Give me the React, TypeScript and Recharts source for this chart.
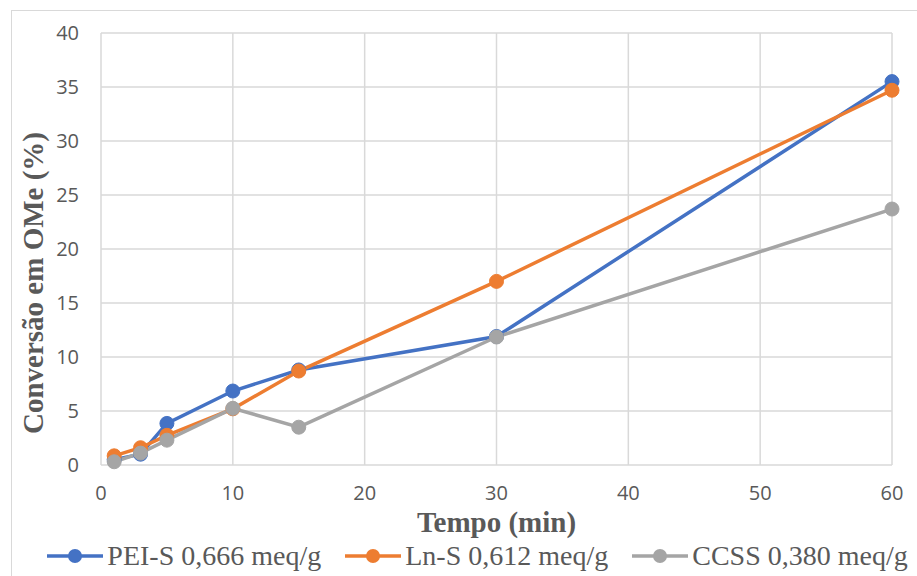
import { CartesianGrid, Legend, Line, LineChart, XAxis, YAxis } from "recharts";

const TEMPOS = [1, 3, 5, 10, 15, 30, 60];
const PEI_S = [0.5, 1.0, 3.85, 6.85, 8.8, 11.9, 35.5];
const LN_S = [0.85, 1.6, 2.75, 5.2, 8.7, 17.0, 34.7];
const CCSS = [0.3, 1.1, 2.3, 5.25, 3.5, 11.85, 23.7];
const X_TICKS = [0, 10, 20, 30, 40, 50, 60];
const Y_TICKS = [0, 5, 10, 15, 20, 25, 30, 35, 40];

const SERIES = [
  { chave: "pei", nome: "PEI-S 0,666 meq/g", cor: "#4472C4" },
  { chave: "ln", nome: "Ln-S 0,612 meq/g", cor: "#ED7D31" },
  { chave: "ccss", nome: "CCSS 0,380 meq/g", cor: "#A5A5A5" },
];

const dados = TEMPOS.map((t, i) => ({ t, pei: PEI_S[i], ln: LN_S[i], ccss: CCSS[i] }));

const tickStyle = { fontFamily: "'Open Sans', sans-serif", fontSize: 20, fill: "#595959" };
const tituloStyle = { fontFamily: "'Liberation Serif', serif", fontSize: 29, fontWeight: 700, fill: "#595959" };

function Legenda() {
  return (
    <div style={{ display: "flex", justifyContent: "center", alignItems: "center", gap: 24, paddingLeft: 38, fontFamily: "'Liberation Serif', serif", fontSize: 28, color: "#595959" }}>
      {SERIES.map((s) => (
        <div key={s.chave} style={{ display: "flex", alignItems: "center", gap: 4 }}>
          <svg width={56} height={16}>
            <line x1={0} y1={8} x2={56} y2={8} stroke={s.cor} strokeWidth={3.5} />
            <circle cx={28} cy={8} r={7} fill={s.cor} />
          </svg>
          <span style={{ whiteSpace: "nowrap" }}>{s.nome}</span>
        </div>
      ))}
    </div>
  );
}

export default function App() {
  return (
    <div style={{ position: "fixed", left: 0, top: 0, width: 917, height: 576, background: "#fff", overflow: "hidden" }}>
      <div style={{ position: "absolute", left: 11, top: 10, width: 930, height: 600, border: "1.5px solid #d9d9d9" }} />
      <LineChart width={917} height={576} data={dados} margin={{ top: 33, right: 25, left: 0, bottom: 0 }}>
        <CartesianGrid stroke="#d9d9d9" strokeWidth={1.5} />
        <XAxis
          dataKey="t"
          type="number"
          domain={[0, 60]}
          ticks={X_TICKS}
          axisLine={false}
          tickLine={false}
          tickSize={0}
          tickMargin={21}
          height={111}
          tick={tickStyle}
          label={(p: any) => {
            const vb = p.viewBox;
            return (
              <text x={vb.x + vb.width / 2} y={vb.y + 57} dy="0.35em" textAnchor="middle" style={tituloStyle}>
                Tempo (min)
              </text>
            );
          }}
        />
        <YAxis
          type="number"
          domain={[0, 40]}
          ticks={Y_TICKS}
          axisLine={false}
          tickLine={false}
          tickSize={0}
          tickMargin={22}
          width={101}
          tick={tickStyle}
          label={() => (
            <text x={33} y={283} dy="0.35em" textAnchor="middle" transform="rotate(-90 33 283)" style={tituloStyle}>
              Conversão em OMe (%)
            </text>
          )}
        />
        <Legend
          layout="horizontal"
          verticalAlign="middle"
          align="center"
          wrapperStyle={{ top: 540, left: 0, width: 917 }}
          content={() => <Legenda />}
        />
        {SERIES.map((s) => (
          <Line
            key={s.chave}
            dataKey={s.chave}
            name={s.nome}
            stroke={s.cor}
            strokeWidth={3.5}
            dot={{ r: 7, fill: s.cor, stroke: s.cor, strokeWidth: 1 }}
            activeDot={false}
            isAnimationActive={false}
          />
        ))}
      </LineChart>
    </div>
  );
}
